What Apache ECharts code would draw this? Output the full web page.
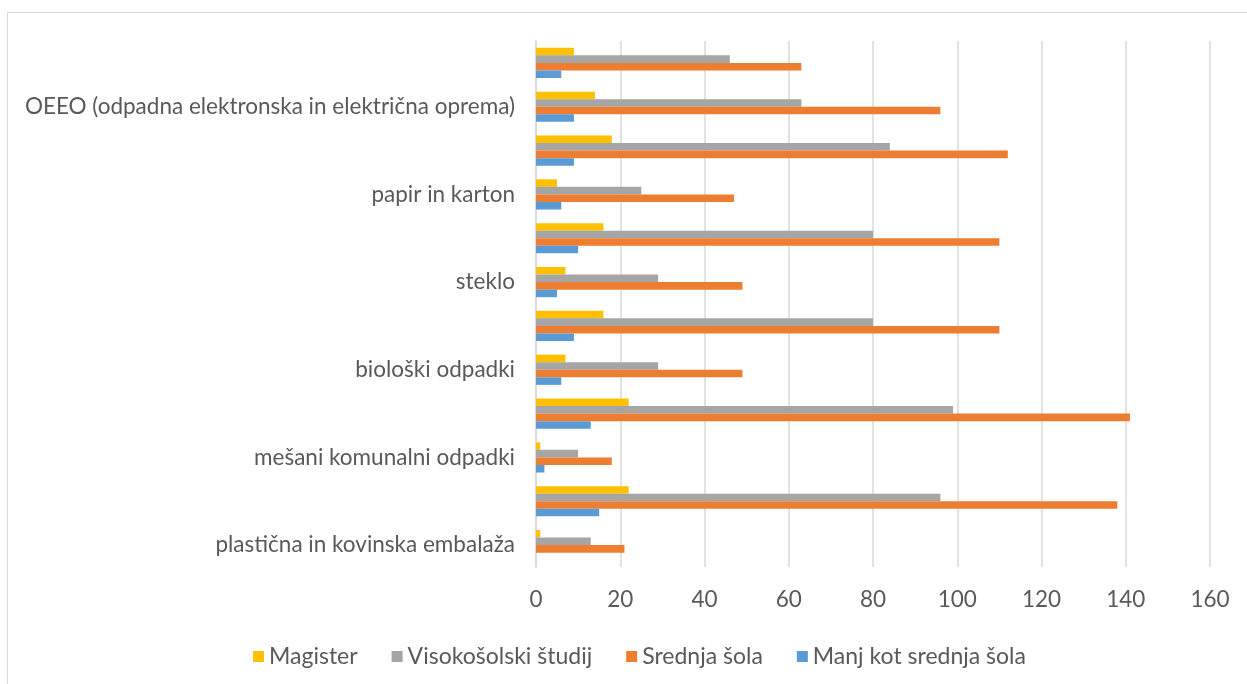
<!DOCTYPE html>
<html>
<head>
<meta charset="utf-8">
<script src="https://cdn.jsdelivr.net/npm/echarts@6/dist/echarts.min.js"></script>
<style>
  html, body { margin: 0; padding: 0; background: #fff; overflow: hidden; }
  #frame { position: absolute; left: 7px; top: 12px; width: 1260px; height: 700px; border: 1px solid #d9d9d9; }
  #main { position: absolute; left: 0; top: 0; width: 1247px; height: 684px; }
</style>
</head>
<body>
<div id="frame"></div>
<div id="main"></div>
<script>
// categories bottom -> top (every other label is hidden in the original)
const categories = [
  'plastična in kovinska embalaža', '',
  'mešani komunalni odpadki', '',
  'biološki odpadki', '',
  'steklo', '',
  'papir in karton', '',
  'OEEO (odpadna elektronska in električna oprema)', ''
];
const magister = [1, 22, 1, 22, 7, 16, 7, 16, 5, 18, 14, 9];
const visokosolski = [13, 96, 10, 99, 29, 80, 29, 80, 25, 84, 63, 46];
const srednja = [21, 138, 18, 141, 49, 110, 49, 110, 47, 112, 96, 63];
const manj = [0, 15, 2, 13, 6, 9, 5, 10, 6, 9, 9, 6];
const xTicks = [0, 20, 40, 60, 80, 100, 120, 140, 160];

const fontFamily = 'Lato';
const textColor = '#595959';

let myChart = echarts.init(document.getElementById('main'));

let seriesFn = (name, data, color) => ({
  name: name,
  type: 'bar',
  data: data,
  barGap: '0%',
  barCategoryGap: '31%',
  itemStyle: { color: color },
  animation: false
});

myChart.setOption({
  textStyle: { fontFamily: fontFamily },
  grid: { left: 536, right: 37, top: 41, bottom: 117 },
  legend: {
    left: 248,
    top: 640,
    icon: 'rect',
    itemWidth: 11,
    itemHeight: 11,
    itemGap: 34,
    textStyle: { color: textColor, fontSize: 23, fontFamily: fontFamily },
    data: ['Magister', 'Visokošolski študij', 'Srednja šola', 'Manj kot srednja šola']
  },
  xAxis: {
    type: 'value',
    min: xTicks[0],
    max: xTicks[xTicks.length - 1],
    interval: 20,
    axisLine: { show: false },
    axisTick: { show: false },
    axisLabel: { color: textColor, fontSize: 22.5, margin: 21 },
    splitLine: { show: true, lineStyle: { color: '#d9d9d9', width: 1.5 } }
  },
  yAxis: {
    type: 'category',
    data: categories,
    axisLine: { show: true, lineStyle: { color: '#d9d9d9', width: 1.5 } },
    axisTick: { show: false },
    axisLabel: { interval: 0, color: textColor, fontSize: 22.5, margin: 21 }
  },
  series: [
    seriesFn('Magister', magister, '#FFC000'),
    seriesFn('Visokošolski študij', visokosolski, '#A5A5A5'),
    seriesFn('Srednja šola', srednja, '#ED7D31'),
    seriesFn('Manj kot srednja šola', manj, '#5B9BD5')
  ]
});
</script>
</body>
</html>
